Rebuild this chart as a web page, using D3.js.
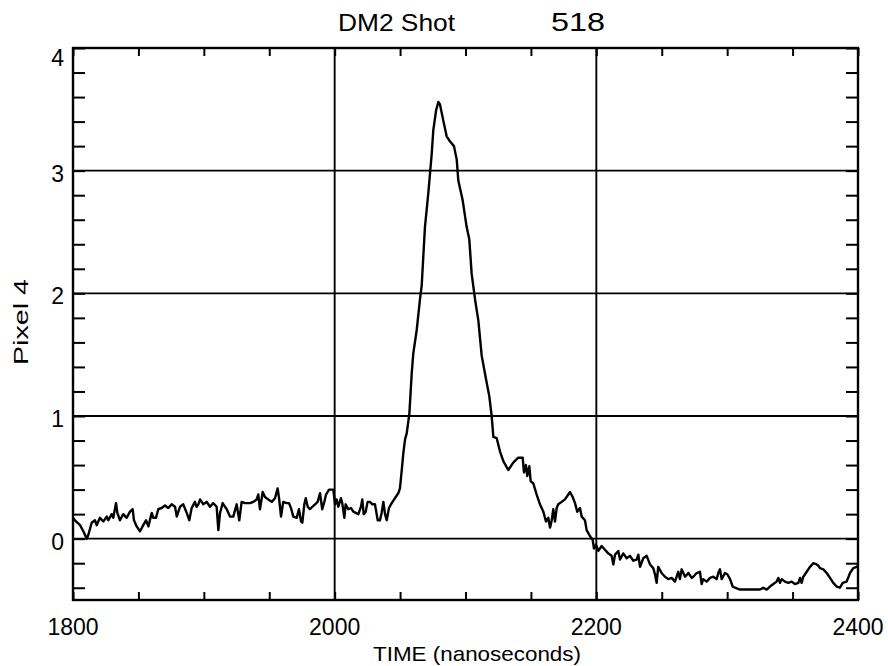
<!DOCTYPE html>
<html><head><meta charset="utf-8">
<script src="https://cdn.jsdelivr.net/npm/d3@7"></script>
<style>body{margin:0;background:#fff}svg{display:block}</style>
</head><body><svg id="c" width="888" height="666"></svg>
<script>
const timeNs = [1800,1801.5,1805.4,1807.9,1810.5,1811.7,1814.3,1816.8,1818.1,1820.6,1823.2,1825.8,1827.0,1829.6,1830.8,1832.9,1833.9,1835.9,1838.4,1841.0,1843.6,1845.6,1846.6,1848.7,1851.2,1853.7,1855.8,1857.6,1860.2,1861.4,1863.4,1865.2,1867.8,1870.3,1872.8,1875.4,1878.0,1879.3,1881.8,1884.3,1886.9,1888.9,1890.7,1893.2,1894.5,1895.8,1897.1,1899.6,1902.2,1904.7,1907.2,1909.8,1911.1,1912.4,1914.4,1916.2,1917.5,1920.0,1922.5,1925.1,1927.1,1928.9,1931.5,1935.3,1937.8,1940.4,1941.6,1942.9,1945.0,1946.7,1949.3,1951.9,1954.4,1956.4,1957.5,1959.0,1960.7,1963.3,1965.1,1966.6,1968.4,1971.0,1972.7,1974.3,1975.3,1976.8,1977.9,1979.4,1981.1,1982.9,1985.0,1987.0,1988.8,1990.5,1992.1,1993.4,1995.7,1997.7,1999.0,2000.3,2001.5,2002.8,2004.8,2005.8,2007.4,2008.4,2010.4,2012.5,2014.2,2016.1,2018.1,2020.1,2021.1,2022.2,2023.7,2025.2,2027.0,2028.8,2030.8,2032.9,2034.6,2035.9,2037.2,2038.5,2039.8,2041.5,2043.6,2046.1,2048.6,2049.9,2051.2,2052.5,2053.8,2055.1,2057.1,2058.9,2060.1,2062.7,2065.2,2066.5,2069.0,2071.6,2072.9,2074.2,2075.4,2077.5,2079.2,2080.5,2083.0,2085.6,2088.1,2091.2,2093.3,2094.5,2097.8,2100.9,2102.9,2104.7,2107.3,2109.8,2112.4,2115.7,2118.2,2120.0,2121.3,2123.8,2126.4,2129.0,2132.7,2136.5,2140.3,2143.7,2144.7,2146.2,2147.2,2148.8,2149.8,2151.8,2154.4,2156.9,2159.5,2161.5,2163.3,2164.6,2165.9,2167.1,2168.4,2169.7,2170.9,2173.5,2176.0,2178.6,2179.9,2181.9,2183.7,2185.4,2187.5,2188.8,2191.3,2192.6,2195.2,2197.2,2198.2,2199.7,2201.5,2204.1,2206.6,2209.1,2211.7,2213.0,2214.3,2216.8,2218.1,2220.6,2223.2,2225.7,2228.3,2230.8,2232.1,2233.4,2235.9,2238.5,2241.0,2243.5,2244.8,2246.1,2247.3,2249.9,2252.5,2255.0,2257.6,2260.1,2262.6,2263.9,2265.2,2267.8,2270.3,2272.9,2274.1,2276.7,2279.2,2280.5,2281.7,2284.3,2286.9,2289.4,2292.0,2293.2,2294.5,2295.8,2298.3,2300.1,2302.2,2304.2,2306.0,2309.8,2325.1,2327.6,2330.2,2332.7,2335.3,2337.8,2339.1,2340.4,2341.7,2344.2,2346.7,2349.3,2351.8,2354.4,2355.7,2356.9,2358.2,2360.8,2363.3,2365.8,2368.4,2369.7,2370.9,2373.5,2376.1,2378.6,2381.1,2383.7,2386.2,2388.3,2391.3,2393.9,2396.4,2399.0,2400];
const pixel4 = [0.17,0.15,0.11,0.06,0.00,0.03,0.13,0.15,0.11,0.17,0.14,0.18,0.15,0.20,0.17,0.29,0.21,0.15,0.20,0.17,0.22,0.24,0.15,0.10,0.06,0.11,0.15,0.10,0.21,0.17,0.17,0.24,0.25,0.27,0.25,0.28,0.26,0.18,0.26,0.28,0.21,0.15,0.25,0.30,0.26,0.28,0.32,0.28,0.30,0.26,0.29,0.26,0.07,0.21,0.29,0.26,0.24,0.18,0.18,0.28,0.15,0.30,0.29,0.29,0.30,0.32,0.36,0.24,0.38,0.34,0.32,0.30,0.33,0.41,0.33,0.18,0.30,0.29,0.29,0.25,0.18,0.17,0.24,0.14,0.13,0.28,0.33,0.26,0.24,0.26,0.28,0.30,0.37,0.24,0.30,0.36,0.40,0.40,0.40,0.28,0.32,0.26,0.33,0.29,0.17,0.28,0.24,0.25,0.22,0.21,0.20,0.26,0.32,0.20,0.22,0.30,0.30,0.28,0.28,0.15,0.15,0.21,0.30,0.20,0.15,0.25,0.29,0.33,0.37,0.41,0.55,0.70,0.81,0.86,1.02,1.35,1.51,1.70,1.95,2.06,2.54,2.82,2.98,3.14,3.33,3.49,3.56,3.54,3.41,3.28,3.24,3.20,3.09,2.92,2.76,2.54,2.44,2.16,1.95,1.78,1.49,1.30,1.16,1.00,0.83,0.82,0.71,0.63,0.56,0.62,0.66,0.66,0.54,0.60,0.51,0.59,0.47,0.45,0.36,0.28,0.22,0.14,0.17,0.09,0.15,0.24,0.14,0.25,0.28,0.30,0.32,0.36,0.38,0.34,0.29,0.22,0.25,0.18,0.15,0.07,0.02,-0.01,-0.08,-0.05,-0.10,-0.06,-0.09,-0.12,-0.14,-0.21,-0.13,-0.10,-0.17,-0.12,-0.16,-0.14,-0.18,-0.17,-0.13,-0.23,-0.16,-0.14,-0.21,-0.24,-0.29,-0.36,-0.23,-0.28,-0.31,-0.33,-0.32,-0.35,-0.27,-0.33,-0.25,-0.31,-0.28,-0.32,-0.31,-0.28,-0.27,-0.37,-0.33,-0.35,-0.32,-0.31,-0.33,-0.28,-0.25,-0.33,-0.28,-0.29,-0.33,-0.39,-0.40,-0.415,-0.415,-0.40,-0.415,-0.39,-0.37,-0.35,-0.32,-0.36,-0.33,-0.35,-0.36,-0.35,-0.37,-0.36,-0.32,-0.36,-0.31,-0.27,-0.23,-0.20,-0.21,-0.22,-0.24,-0.25,-0.28,-0.32,-0.36,-0.39,-0.40,-0.36,-0.35,-0.28,-0.24,-0.23,-0.22];
const xTickLabels = [1800, 2000, 2200, 2400];
const yTickLabels = [0, 1, 2, 3, 4];
const xGridValues = [2000, 2200];
const yGridValues = [0, 1, 2, 3];
const titleLeft = "DM2 Shot";
const titleRight = "518";
const xTitle = "TIME (nanoseconds)";
const yTitle = "Pixel 4";

const svg = d3.select("#c");
const L = 73, R = 858, T = 48, B = 600;
const x = d3.scaleLinear().domain([1800, 2400]).range([L, R]);
const y = d3.scaleLinear().domain([-0.5, 4]).range([B, T]);
const font = "'Liberation Sans', Arial, sans-serif";

// grid
const g = svg.append("g").attr("stroke", "#000").attr("stroke-width", 1.9);
g.selectAll(".gx").data(xGridValues).join("line")
  .attr("x1", d => x(d)).attr("x2", d => x(d)).attr("y1", T).attr("y2", B);
g.selectAll(".gy").data(yGridValues).join("line")
  .attr("x1", L).attr("x2", R).attr("y1", d => y(d)).attr("y2", d => y(d));

// minor ticks via axes
const xMinor = d3.range(1800, 2400.1, 50);
const yMinor = d3.range(-0.4, 4.01, 0.2).map(v => +v.toFixed(2));
function styleAxis(sel) {
  sel.select(".domain").remove();
  sel.selectAll(".tick line").attr("stroke", "#000").attr("stroke-width", 2);
  sel.selectAll(".tick text").remove();
}
svg.append("g").attr("transform", `translate(0,${B})`)
  .call(d3.axisBottom(x).tickValues(xMinor).tickSize(-8).tickFormat("")).call(styleAxis);
svg.append("g").attr("transform", `translate(0,${T})`)
  .call(d3.axisTop(x).tickValues(xMinor).tickSize(-8).tickFormat("")).call(styleAxis);
svg.append("g").attr("transform", `translate(${L},0)`)
  .call(d3.axisLeft(y).tickValues(yMinor).tickSize(-12).tickFormat("")).call(styleAxis);
svg.append("g").attr("transform", `translate(${R},0)`)
  .call(d3.axisRight(y).tickValues(yMinor).tickSize(-12).tickFormat("")).call(styleAxis);

// frame
svg.append("rect").attr("x", L).attr("y", T).attr("width", R - L).attr("height", B - T)
  .attr("fill", "none").attr("stroke", "#000").attr("stroke-width", 2.4);

// data line
const line = d3.line().x((d, i) => x(timeNs[i])).y(d => y(d)).curve(d3.curveLinear);
svg.append("path").datum(pixel4).attr("d", line)
  .attr("fill", "none").attr("stroke", "#000").attr("stroke-width", 2.4).attr("stroke-linejoin", "round");

// tick labels
svg.selectAll(".xl").data(xTickLabels).join("text")
  .attr("x", d => x(d)).attr("y", 635).attr("text-anchor", "middle")
  .attr("font-family", font).attr("font-size", 23).text(d => d);
svg.selectAll(".yl").data(yTickLabels).join("text")
  .attr("x", 64).attr("y", d => Math.max(y(d) + 3, 58)).attr("dy", "0.35em").attr("text-anchor", "end")
  .attr("font-family", font).attr("font-size", 23).text(d => d);

// titles
svg.append("text").attr("x", 338).attr("y", 31).attr("font-family", font).attr("font-size", 24)
  .attr("textLength", 117).attr("lengthAdjust", "spacingAndGlyphs").text(titleLeft);
svg.append("text").attr("x", 551).attr("y", 31).attr("font-family", font).attr("font-size", 26)
  .attr("textLength", 54).attr("lengthAdjust", "spacingAndGlyphs").text(titleRight);
svg.append("text").attr("x", 373).attr("y", 661).attr("font-family", font).attr("font-size", 21)
  .attr("textLength", 208).attr("lengthAdjust", "spacingAndGlyphs").text(xTitle);
svg.append("text").attr("transform", "translate(28,365) rotate(-90)").attr("font-family", font).attr("font-size", 21)
  .attr("textLength", 86).attr("lengthAdjust", "spacingAndGlyphs").text(yTitle);
</script>
</body></html>
